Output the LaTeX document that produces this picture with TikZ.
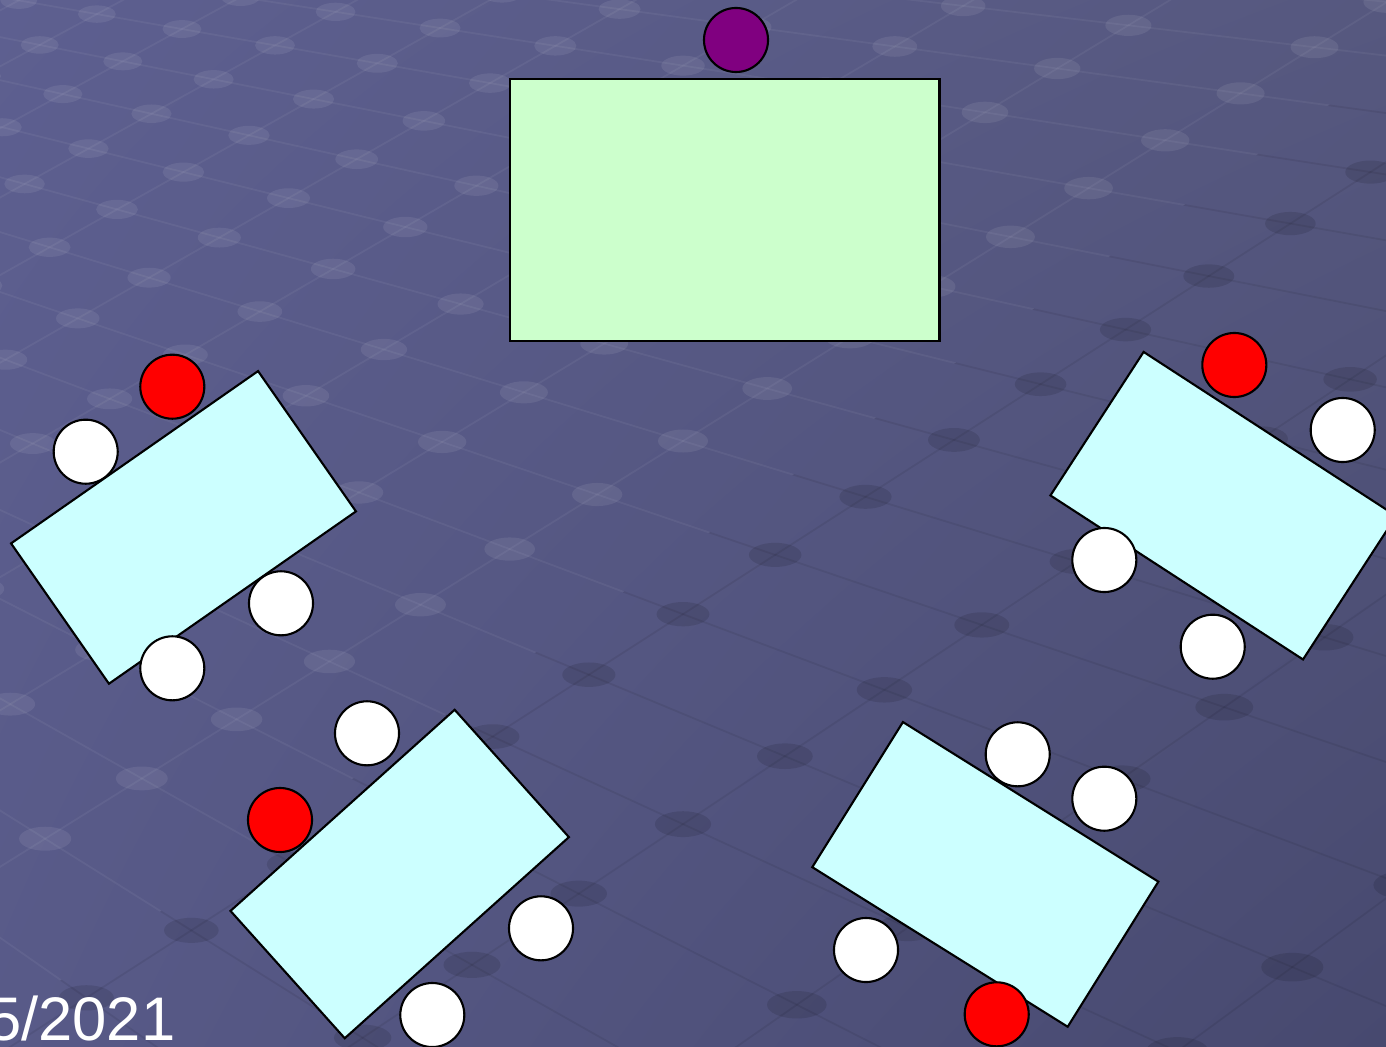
\documentclass[tikz,border=0pt]{standalone}
\usepackage{fontspec}
\setmainfont{Liberation Sans}
\usepackage{xcolor}
\usepackage{tikz}
\usetikzlibrary{calc,shadings}
\definecolor{floortl}{HTML}{5D5F90}
\definecolor{floortr}{HTML}{56587F}
\definecolor{floorbl}{HTML}{585A88}
\definecolor{floorbr}{HTML}{47496F}
\definecolor{deskcyan}{HTML}{CCFFFF}
\definecolor{boardgreen}{HTML}{CCFFCC}
\definecolor{teachpurple}{HTML}{800080}
\newcommand{\floorlines}{%
  \foreach \a in {-11,...,6}{\draw (g\a x-10) -- (g\a x11);}
  \foreach \b in {-10,...,11}{\draw (g-11x\b) -- (g6x\b);}
}

\begin{document}
\begin{tikzpicture}[
  x=0.01cm, y=-0.01cm,
  desk/.style={draw=black, line width=0.6pt, fill=deskcyan, minimum width=3.01cm, minimum height=1.71cm, inner sep=0pt},
  board/.style={draw=black, line width=0.8pt, fill=boardgreen, minimum width=4.29cm, minimum height=2.62cm, inner sep=0pt},
  seat/.style={circle, draw=black, line width=0.6pt, minimum size=0.64cm, inner sep=0pt},
  pupil/.style={seat, fill=white},
  leader/.style={seat, fill=red},
  teacher/.style={seat, fill=teachpurple},
  spotlit/.style={fill=white, opacity=0.08},
  spotdark/.style={fill=black, opacity=0.11},
  litline/.style={draw=white, opacity=0.05, line width=0.5pt},
  darkline/.style={draw=black, opacity=0.07, line width=0.5pt},
  datetext/.style={text=white, font=\fontsize{17.5}{20}\selectfont, inner sep=0pt}
]
\useasboundingbox (0,0) rectangle (1386,1046);
\clip (0,0) rectangle (1386,1046);
\shade[upper left=floortl, upper right=floortr, lower left=floorbl, lower right=floorbr] (0,0) rectangle (1386,1046);

% floor tiles
\foreach \a in {-11,...,6}{
  \foreach \b in {-10,...,11}{
    \pgfmathsetmacro\w{1-0.0684*\a+0.0096*\b}
    \pgfmathsetmacro\gx{683+(170*\a+85*\b)/\w}
    \pgfmathsetmacro\gy{441+(52*\a-53*\b)/\w}
    \coordinate (g\a x\b) at (\gx,\gy);
  }
}
\begin{scope}
  \clip (-10,-10) -- (1400,-10) -- (1400,56) -- (-10,1029) -- cycle;
  \begin{scope}[every path/.style={litline}]\floorlines\end{scope}
\end{scope}
\begin{scope}
  \clip (1400,56) -- (1400,1060) -- (-10,1060) -- (-10,1029) -- cycle;
  \begin{scope}[every path/.style={darkline}]\floorlines\end{scope}
\end{scope}
\foreach \a in {-11,...,6}{
  \foreach \b in {-10,...,11}{
    \pgfmathsetmacro\w{1-0.0684*\a+0.0096*\b}
    \pgfmathsetmacro\rx{0.25/\w^0.6}
    \pgfmathsetmacro\ry{0.115/\w^0.6}
    \path (g\a x\b); \pgfgetlastxy{\px}{\py}
    \pgfmathsetmacro\side{-\py/0.2845276-470+0.69*(\px/0.2845276-800)}
    \ifdim\side pt<0pt
      \fill[spotlit] (g\a x\b) ellipse [x radius=\rx cm, y radius=\ry cm];
    \else
      \fill[spotdark] (g\a x\b) ellipse [x radius=\rx cm, y radius=\ry cm];
    \fi
  }
}

% front
\node[board] (board) at (724.7,210) {};
\node[teacher] (teach) at (736,40) {};

% tables
\node[desk, rotate=34.9] (deskA) at (183.5,527.4) {};
\node[desk, rotate=-33] (deskB) at (1223.3,505.7) {};
\node[desk, rotate=41.9] (deskC) at (399.7,874) {};
\node[desk, rotate=-32] (deskD) at (985.3,874.4) {};

\node[leader] (a1) at (172.3,386.7) {};
\node[pupil] (a2) at (85.7,451.7) {};
\node[pupil] (a3) at (281,603.3) {};
\node[pupil] (a4) at (172.3,668.3) {};

\node[leader] (b1) at (1234.3,365) {};
\node[pupil] (b2) at (1342.7,430) {};
\node[pupil] (b3) at (1104.3,560) {};
\node[pupil] (b4) at (1212.7,646.7) {};

\node[pupil] (c1) at (367,733.3) {};
\node[leader] (c2) at (280,820) {};
\node[pupil] (c3) at (541,928.3) {};
\node[pupil] (c4) at (432.3,1015) {};

\node[pupil] (d1) at (1017.7,754.3) {};
\node[pupil] (d2) at (1104.3,798.7) {};
\node[pupil] (d3) at (866,950) {};
\node[leader] (d4) at (996.7,1014.3) {};

\node[datetext, anchor=base east] (date) at (176,1040) {5/2021};
\end{tikzpicture}
\end{document}
